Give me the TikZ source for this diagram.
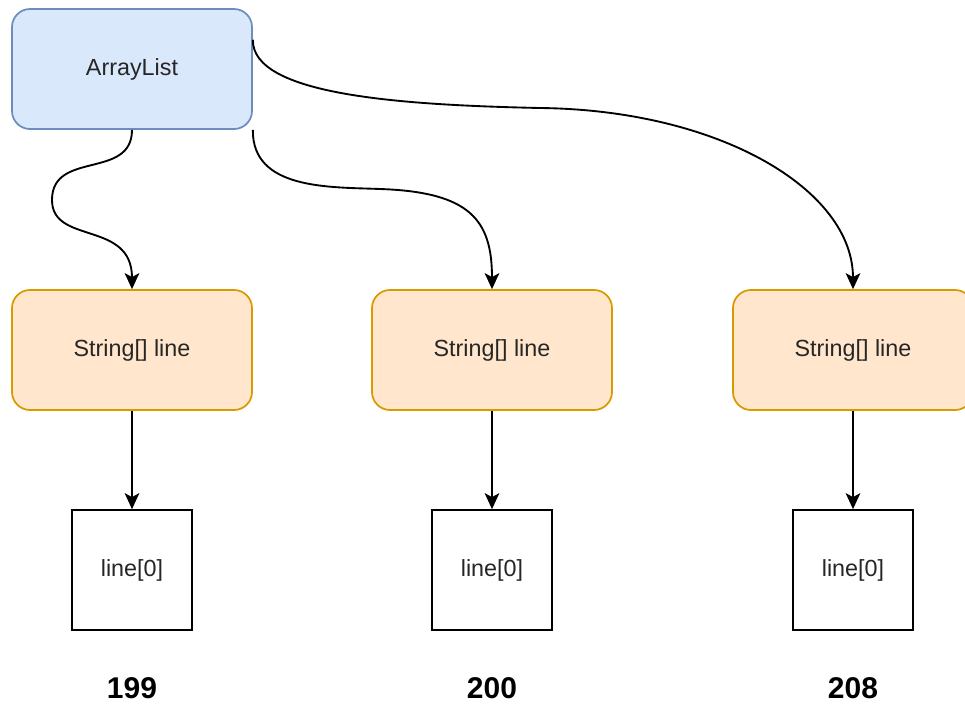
\documentclass[tikz,border=0pt]{standalone}
\usepackage{fontspec}
\setmainfont{Liberation Sans}
\usetikzlibrary{arrows.meta,calc}
\definecolor{bluefill}{HTML}{DAE8FC}
\definecolor{bluedraw}{HTML}{6C8EBF}
\definecolor{orfill}{HTML}{FFE6CC}
\definecolor{ordraw}{HTML}{D79B00}
\begin{document}
\begin{tikzpicture}[x=0.75pt,y=-0.75pt,
  base/.style={rectangle, inner sep=0pt, line width=1.3pt,
    font=\fontsize{17.5}{20}\selectfont, text=black!85},
  listbox/.style={base, rounded corners=13.5pt, minimum width=180pt, minimum height=90pt, fill=bluefill, draw=bluedraw},
  strbox/.style={base, rounded corners=13.5pt, minimum width=180pt, minimum height=90pt, fill=orfill, draw=ordraw},
  cellbox/.style={base, minimum width=90pt, minimum height=90pt, fill=white, draw=black},
  numlabel/.style={font=\fontsize{22.5}{26}\selectfont\bfseries, inner sep=0pt},
  conn/.style={line width=1.4pt, -{Stealth[length=12pt,width=11pt,inset=3pt]}}]
\useasboundingbox (0,0) rectangle (965,704);
\node[listbox] (AL) at (132,69) {ArrayList};
\node[strbox] (S1) at (132,350) {String[] line};
\node[strbox] (S2) at (492,350) {String[] line};
\node[strbox] (S3) at (853,350) {String[] line};
\node[cellbox] (C1) at (132,570) {line[0]};
\node[cellbox] (C2) at (492,570) {line[0]};
\node[cellbox] (C3) at (853,570) {line[0]};
\node[numlabel] (N1) at (132,688) {199};
\node[numlabel] (N2) at (492,688) {200};
\node[numlabel] (N3) at (853,688) {208};
\coordinate (E3) at ($(AL.north east)!0.26!(AL.south east)$);
\draw[conn] (AL.south) .. controls (132,180) and (52,150) .. (52,200)
  .. controls (52,245) and (132,220) .. (S1.north);
\draw[conn] (AL.south east) .. controls (252,190) and (330,187) .. (380,189)
  .. controls (470,192) and (492,220) .. (S2.north);
\draw[conn] (E3) .. controls (252,95) and (400,105) .. (540,108)
  .. controls (720,110) and (853,190) .. (S3.north);
\draw[conn] (S1) -- (C1);
\draw[conn] (S2) -- (C2);
\draw[conn] (S3) -- (C3);
\end{tikzpicture}
\end{document}
